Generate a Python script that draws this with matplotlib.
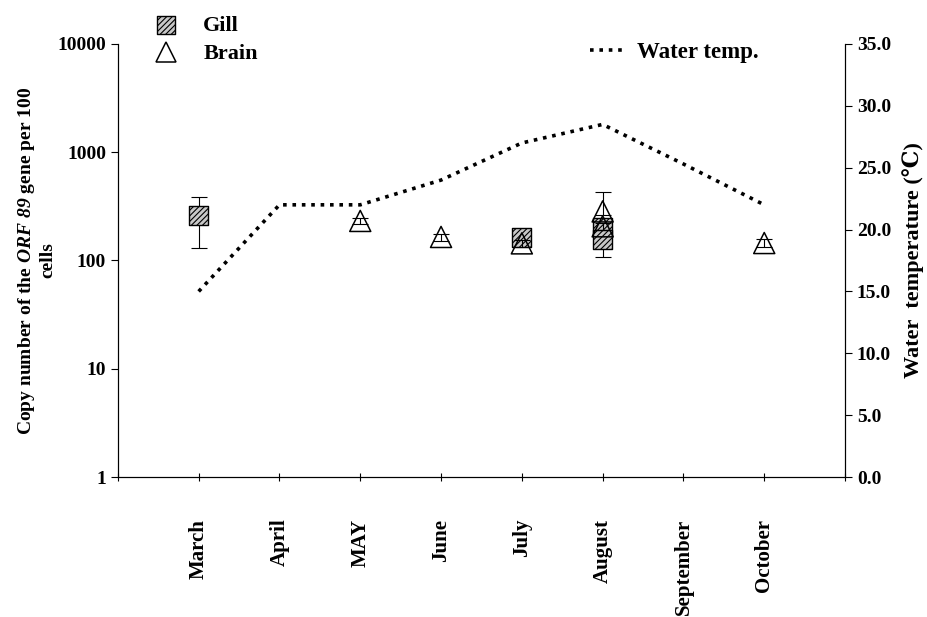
import matplotlib
matplotlib.use("Agg")
import matplotlib.pyplot as plt
from matplotlib.lines import Line2D
import numpy as np

plt.rcParams['font.family'] = ['Liberation Serif', 'DejaVu Serif']
plt.rcParams['font.weight'] = 'bold'
plt.rcParams['mathtext.fontset'] = 'custom'
plt.rcParams['mathtext.rm'] = 'Liberation Serif:italic:bold'
plt.rcParams['mathtext.it'] = 'Liberation Serif:italic:bold'
plt.rcParams['hatch.linewidth'] = 0.8

months = ['', 'March', 'April', 'MAY', 'June', 'July', 'August', 'September', 'October', '']

# Gill copy numbers
gill_x = [1, 5, 6, 6]
gill_y = [260, 164, 202, 157]
gill_err_lo = [130, 8, 10, 50]
gill_err_hi = [130, 8, 10, 10]

# Brain copy numbers
brain_x = [3, 4, 5, 6, 6, 8]
brain_y = [232, 165, 144, 284, 207, 145]
brain_err_lo = [15, 12, 10, 20, 15, 12]
brain_err_hi = [15, 12, 10, 142, 15, 12]

# Water temperature
temp_x = [1, 2, 3, 4, 5, 6, 7, 8]
temp_y = [15.0, 22.0, 22.0, 24.0, 27.0, 28.5, 25.3, 22.0]

fig = plt.figure(figsize=(9.28, 6.17), dpi=100)
ax = fig.add_axes([0.127, 0.2269, 0.7836, 0.7018])

ax.errorbar(gill_x, gill_y, yerr=[gill_err_lo, gill_err_hi], fmt='none',
            ecolor='black', elinewidth=0.8, capsize=6, capthick=0.8, zorder=2)
ax.scatter(gill_x, gill_y, marker='s', s=190, facecolor='#c8c8c8',
           edgecolor='black', linewidth=1.0, hatch='//////', zorder=3)
ax.errorbar(brain_x, brain_y, yerr=[brain_err_lo, brain_err_hi], fmt='none',
            ecolor='black', elinewidth=0.8, capsize=6, capthick=0.8, zorder=4)
ax.scatter(brain_x, brain_y, marker='^', s=230, facecolor='none',
           edgecolor='black', linewidth=1.1, zorder=5)

ax.set_yscale('log')
ax.set_ylim(1, 10000)
ax.set_xlim(0, 9)
ax.set_yticks([1, 10, 100, 1000, 10000])
ax.set_yticklabels(['1', '10', '100', '1000', '10000'], fontsize=14, fontweight='bold')
ax.minorticks_off()
ax.set_xticks(range(10))
ax.set_xticklabels(months, rotation=90, fontsize=15, fontweight='bold', va='top')
ax.tick_params(axis='x', direction='inout', length=6, width=0.8, pad=27)
ax.tick_params(axis='y', direction='out', length=5, width=0.8)
ax.spines['top'].set_visible(False)
for s in ['left', 'bottom', 'right']:
    ax.spines[s].set_linewidth(0.8)
ax.set_ylabel('Copy number of the $\\mathrm{ORF\\ 89}$ gene per 100\ncells',
              fontsize=14, fontweight='bold')
ax.yaxis.set_label_coords(-0.084, 0.5)

ax2 = ax.twinx()
ax2.plot(temp_x, temp_y, color='black', lw=2.6, linestyle=(0, (1, 1.6)), zorder=1)
ax2.set_ylim(0, 35)
ax2.set_yticks(np.arange(0, 35.1, 5))
ax2.set_yticklabels([f'{v:.1f}' for v in np.arange(0, 35.1, 5)], fontsize=14, fontweight='bold')
ax2.tick_params(axis='y', direction='out', length=5, width=0.8)
ax2.spines['top'].set_visible(False)
ax2.spines['right'].set_linewidth(0.8)
ax2.set_ylabel('Water  temperature (\u2103)', fontsize=16, fontweight='bold', labelpad=8)

h_gill = ax.scatter([], [], marker='s', s=170, facecolor='#c8c8c8', edgecolor='black',
                    linewidth=1.0, hatch='//////')
h_brain = Line2D([], [], marker='^', markersize=15, markerfacecolor='none',
                 markeredgecolor='black', linestyle='none', markeredgewidth=1.1)
leg1 = fig.legend([h_gill, h_brain], ['Gill', 'Brain'], loc='center left',
                  bbox_to_anchor=(152.7 / 928, 1 - 40 / 617), bbox_transform=fig.transFigure,
                  frameon=False, prop={'size': 16, 'weight': 'bold'},
                  borderpad=0, borderaxespad=0, handlelength=1.2,
                  handletextpad=1.07, labelspacing=0.35)
h_temp = Line2D([], [], color='black', lw=2.6, linestyle=(0, (1, 1.6)))
fig.legend([h_temp], ['Water temp.'], loc='center left',
           bbox_to_anchor=(590 / 928, 1 - 52 / 617), bbox_transform=fig.transFigure,
           frameon=False, prop={'size': 16.5, 'weight': 'bold'},
           borderpad=0, borderaxespad=0, handlelength=1.4, handletextpad=0.65)

fig.savefig('out.png', dpi=100)
